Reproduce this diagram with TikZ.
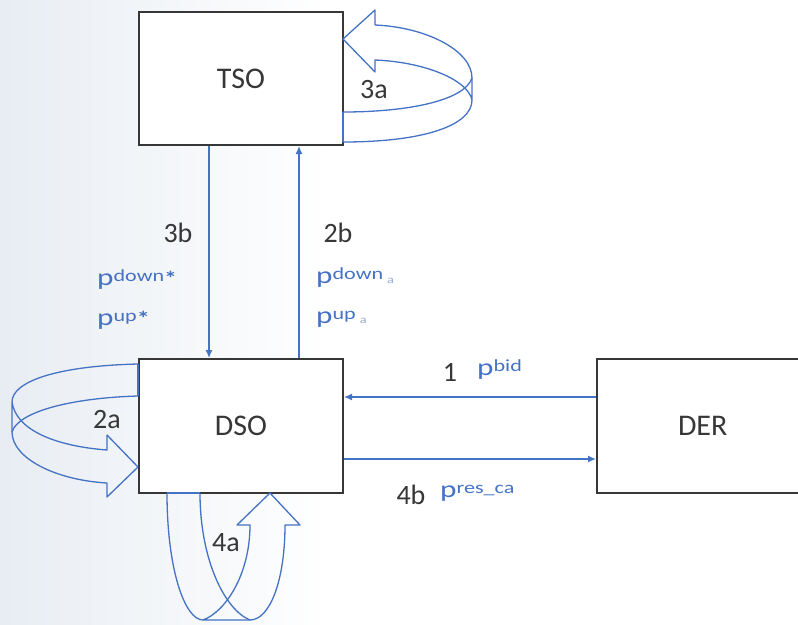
\documentclass[tikz,border=0pt]{standalone}
\usepackage{fontspec}
\setmainfont{Carlito}
\newfontfamily\bluefont[FakeStretch=1.3]{Carlito}
\usetikzlibrary{arrows.meta}
\definecolor{oblue}{RGB}{68,114,196}
\definecolor{lblue}{RGB}{150,170,215}
\definecolor{dgray}{RGB}{55,55,55}
\definecolor{bgc}{RGB}{232,237,243}
\newcommand{\plab}[2]{{\bluefont\fontsize{24}{26}\selectfont p\raisebox{4pt}{\fontsize{17}{18}\selectfont #1}#2}}
\newcommand{\bstar}{\raisebox{-4pt}{\fontsize{20}{20}\selectfont\bfseries *}}
\begin{document}
\begin{tikzpicture}[x=1pt,y=-1pt,
  box/.style={draw=dgray,line width=2pt,fill=white,inner sep=0pt,font=\fontsize{30}{32}\selectfont,text=dgray},
  lbl/.style={font=\fontsize{28}{30}\selectfont,text=dgray,inner sep=0pt},
  blbl/.style={text=oblue,inner sep=0pt,anchor=base west},
  conn/.style={draw=oblue,line width=1.4pt,-{Latex[length=8pt,width=7pt]}},
  ribbon/.style={draw=oblue,line width=1.3pt,line join=round}]

\useasboundingbox (0,0) rectangle (798,624);
\shade[left color=bgc,right color=white] (0,0) rectangle (330,624);

% boxes
\node[box,minimum width=204pt,minimum height=133pt] (TSO) at (241,78.5) {TSO};
\node[box,minimum width=204pt,minimum height=134pt] (DSO) at (241,426) {DSO};
\node[box,minimum width=208pt,minimum height=134pt,text width=194pt,align=left] (DER) at (701,426) {\hspace*{74pt}DER};

% straight connectors
\coordinate (x3b) at (209,0);
\coordinate (x2b) at (299,0);
\coordinate (y1) at (0,397);
\coordinate (y4b) at (0,459);
\draw[conn] (TSO.south -| x3b) -- (DSO.north -| x3b);
\draw[conn] (DSO.north -| x2b) -- (TSO.south -| x2b);
\draw[conn] (DER.west |- y1) -- (DSO.east |- y1);
\draw[conn] (DSO.east |- y4b) -- (DER.west |- y4b);

% circular block arrow 3a
\draw[ribbon] (343,142) .. controls (425,142) and (472,125) .. (472,100) -- (472,78) .. controls (472,50) and (425,27) .. (375,25) -- (375,10) -- (343,39) -- (375,72) -- (375,60) .. controls (425,62) and (468,80) .. (472,100);
\draw[ribbon] (343,112) .. controls (410,112) and (465,100) .. (472,78);
\draw[ribbon] (343,112) -- (343,142);

% circular block arrow 2a
\draw[ribbon] (138,364) .. controls (55,366) and (12,382) .. (12,402) -- (12,432) .. controls (12,458) and (55,480) .. (107,483) -- (107,497) -- (138,467) -- (107,435) -- (107,450) .. controls (55,446) and (16,430) .. (12,402);
\draw[ribbon] (138,396) .. controls (70,398) and (18,412) .. (12,432);
\draw[ribbon] (138,364) -- (138,396);

% circular block arrow 4a
\draw[ribbon] (167,493) .. controls (167,570) and (185,620) .. (203,620) -- (250,620) .. controls (270,620) and (285,580) .. (285,525) -- (300,525) -- (270,493) -- (237,525) -- (250,525) .. controls (250,575) and (225,612) .. (203,620);
\draw[ribbon] (200,493) .. controls (200,560) and (225,610) .. (250,620);
\draw[ribbon] (167,493) -- (200,493);

% black labels
\node[lbl] (l3b) at (178,233) {3b};
\node[lbl] (l2b) at (338,233) {2b};
\node[lbl] (l1) at (450,372) {1};
\node[lbl] (l4b) at (411,495) {4b};
\node[lbl] (l3a) at (374,90) {3a};
\node[lbl] (l2a) at (107,420) {2a};
\node[lbl] (l4a) at (226,543) {4a};

% blue labels
\node[blbl] (pd1) at (97,285) {\plab{down\bstar}{}};
\node[blbl] (pu1) at (97,325) {\plab{up\bstar}{}};
\node[blbl] (pd2) at (316,283) {\plab{down}{\,{\fontsize{11}{11}\selectfont\color{lblue}a}}};
\node[blbl] (pu2) at (316,323) {\plab{up}{\,{\fontsize{11}{11}\selectfont\color{lblue}a}}};
\node[blbl] (pbid) at (477,375) {\plab{bid}{}};
\node[blbl] (pres) at (440,497) {\plab{res\_ca}{}};
\end{tikzpicture}
\end{document}
